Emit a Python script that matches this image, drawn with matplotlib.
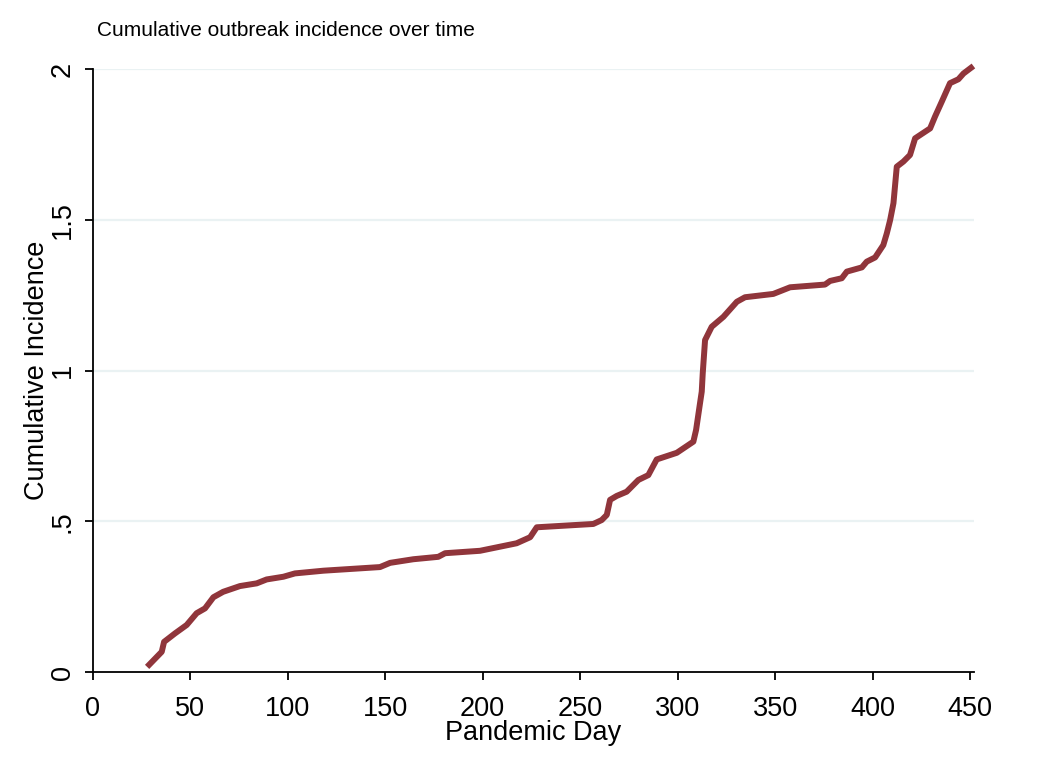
import matplotlib
matplotlib.use("Agg")
import matplotlib.pyplot as plt

plt.rcParams['font.family'] = ['Liberation Sans', 'DejaVu Sans']

title = "Cumulative outbreak incidence over time"
x_label = "Pandemic Day"
y_label = "Cumulative Incidence"
x_ticks = [0, 50, 100, 150, 200, 250, 300, 350, 400, 450]
y_ticks = [0, 0.5, 1, 1.5, 2]
y_tick_labels = ["0", ".5", "1", "1.5", "2"]

days = [28, 35.5, 36.7, 42.3, 48.3, 53.4, 57.7, 62, 67, 75.6, 84.2, 89.3, 97.9, 103.8,
        118.4, 147.4, 152.6, 164.5, 177.3, 180.8, 198.7, 217.5, 219.2, 224.4, 227.8,
        256.8, 261.1, 263.7, 265.4, 268.8, 273.9, 279.9, 285, 289.3, 299.6, 308.1,
        309.5, 311.5, 312.4, 312.9, 314.1, 317.5, 323.5, 330.4, 334.6, 349.1, 357.7,
        375.6, 378.2, 384.2, 386.8, 394.5, 397, 401.3, 405.5, 407.3, 409, 410.7,
        412.4, 415.8, 419.2, 421.8, 429.5, 432, 435.5, 439.7, 444, 446.6, 451.7]
incidence = [0.017, 0.067, 0.10, 0.128, 0.156, 0.195, 0.211, 0.248, 0.266, 0.285, 0.294,
             0.307, 0.316, 0.327, 0.336, 0.348, 0.362, 0.374, 0.382, 0.394, 0.402, 0.427,
             0.432, 0.447, 0.48, 0.491, 0.504, 0.521, 0.571, 0.584, 0.598, 0.637, 0.653,
             0.705, 0.727, 0.764, 0.803, 0.891, 0.93, 0.99, 1.101, 1.145, 1.178, 1.228,
             1.243, 1.254, 1.276, 1.285, 1.297, 1.306, 1.328, 1.342, 1.361, 1.375, 1.416,
             1.455, 1.499, 1.555, 1.676, 1.693, 1.715, 1.77, 1.803, 1.842, 1.892, 1.953,
             1.966, 1.985, 2.01]

fig = plt.figure(figsize=(10.51, 7.65), dpi=100)
ax = fig.add_axes([92.5/1051, 93/765, (974-92.5)/1051, (672-69)/765])

for yv in y_ticks[1:]:
    ax.axhline(yv, color='#EAF2F3', lw=1.6, zorder=0)

ax.plot(days, incidence, color='#90353B', lw=4.3, solid_joinstyle='round',
        solid_capstyle='butt', clip_on=False, zorder=3)

ax.set_xlim(0, 452)
ax.set_ylim(0, 2)
ax.set_xticks(x_ticks)
ax.set_yticks(y_ticks)
ax.set_yticklabels(y_tick_labels, rotation=90, va='center')

for s in ['top', 'right']:
    ax.spines[s].set_visible(False)
for s in ['left', 'bottom']:
    ax.spines[s].set_linewidth(1.3)
    ax.spines[s].set_color('black')

ax.tick_params(axis='both', length=6, width=1.3, labelsize=19.5, color='black')
ax.tick_params(axis='x', pad=11)
ax.tick_params(axis='y', pad=6)

ax.set_xlabel(x_label, fontsize=19.5, labelpad=-1)
ax.set_ylabel(y_label, fontsize=19.5, labelpad=0)

fig.text(97/1051, 1 - 31/765, title, fontsize=15, ha='left', va='center')

fig.savefig("out.png", dpi=100, facecolor='white')
